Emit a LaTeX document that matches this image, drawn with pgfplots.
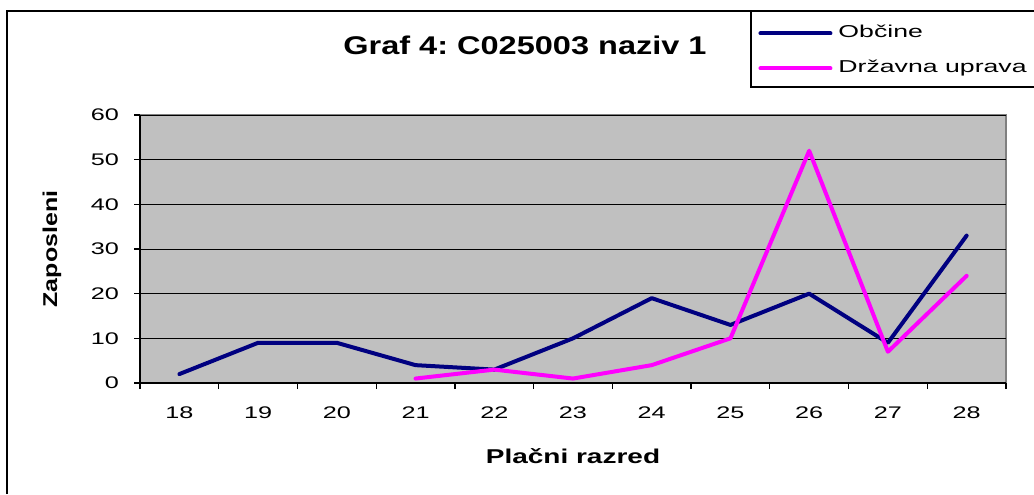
\documentclass[border=0pt]{standalone}
\usepackage{fontspec}
\setmainfont{Liberation Sans}
\newfontfamily\tickfont[FakeStretch=1.5]{Liberation Sans}
\newfontfamily\legfont[FakeStretch=1.55]{Liberation Sans}
\newfontfamily\titlefont[FakeStretch=1.27]{Liberation Sans}
\newfontfamily\xlabfont[FakeStretch=1.4]{Liberation Sans}
\newfontfamily\ylabfont[FakeStretch=1.25]{Liberation Sans}
\usepackage{pgfplots}
\pgfplotsset{compat=1.18}
\definecolor{navyc}{HTML}{000080}
\definecolor{magc}{HTML}{FF00FF}
\definecolor{plotgray}{HTML}{C0C0C0}
\definecolor{bordergray}{HTML}{808080}
\frenchspacing
\begin{document}
\begin{tikzpicture}
\useasboundingbox (0,0) rectangle (517pt,-247pt);
\draw[line width=1pt] (3.5pt,-247pt) -- (3.5pt,-5.5pt) -- (517pt,-5.5pt);
\draw[line width=0.75pt,fill=white] (375.5pt,-5.5pt) rectangle (520pt,-43.5pt);
\node[font=\titlefont\fontsize{12.8}{15}\selectfont\bfseries] at (262.5pt,-22.5pt) {Graf 4: C025003 naziv 1};
\begin{axis}[
  at={(70pt,-191.5pt)}, anchor=south west,
  scale only axis, width=433pt, height=134pt,
  xmin=-0.5, xmax=10.5, ymin=0, ymax=60,
  ytick={0,10,...,60},
  xtick={0,...,10},
  xticklabels={18,19,20,21,22,23,24,25,26,27,28},
  minor xtick={-0.5,0.5,...,10.5},
  major x tick style={draw=none},
  tick align=outside,
  major tick length=3pt, minor tick length=3pt,
  tick style={black, line width=0.6pt},
  axis x line*=bottom, axis y line*=left,
  axis line style={black, line width=1pt, -},
  axis background/.style={fill=plotgray, draw=bordergray, line width=1pt},
  ymajorgrids, grid style={black, line width=0.5pt},
  /pgf/number format/assume math mode=true,
  tick label style={font=\tickfont\fontsize{8.4}{10}\selectfont},
  xticklabel style={anchor=center, yshift=-12pt},
  yticklabel style={anchor=east, xshift=-4pt},
  xlabel={Plačni razred},
  ylabel={Zaposleni},
  xlabel style={font=\xlabfont\fontsize{10}{12}\selectfont\bfseries, at={(axis description cs:0.5,-0.272)}, anchor=center},
  ylabel style={font=\ylabfont\fontsize{10}{12}\selectfont\bfseries, at={(axis description cs:-0.1016,0.5)}, anchor=center},
  legend style={draw=none, fill=none, at={(axis description cs:0.7137,1.36)}, anchor=north west, yshift=-3pt,
    inner sep=0pt, font=\legfont\fontsize{8.6}{10}\selectfont, row sep=9pt, column sep=3pt,
    nodes={inner sep=0pt, text height=6.5pt, text depth=2pt}},
  legend cell align=left,
  legend image code/.code={\draw[#1] (0pt,0pt) -- (35pt,0pt);},
]
\addplot[navyc, line width=2pt, line cap=round, line join=round] coordinates {
(0,2) (1,9) (2,9) (3,4) (4,3) (5,10) (6,19) (7,13) (8,20) (9,9) (10,33)};
\addlegendentry{Občine}
\addplot[magc, line width=2pt, line cap=round, line join=round] coordinates {
(3,1) (4,3) (5,1) (6,4) (7,10) (8,52) (9,7) (10,24)};
\addlegendentry{Državna uprava}
\end{axis}
\end{tikzpicture}
\end{document}
